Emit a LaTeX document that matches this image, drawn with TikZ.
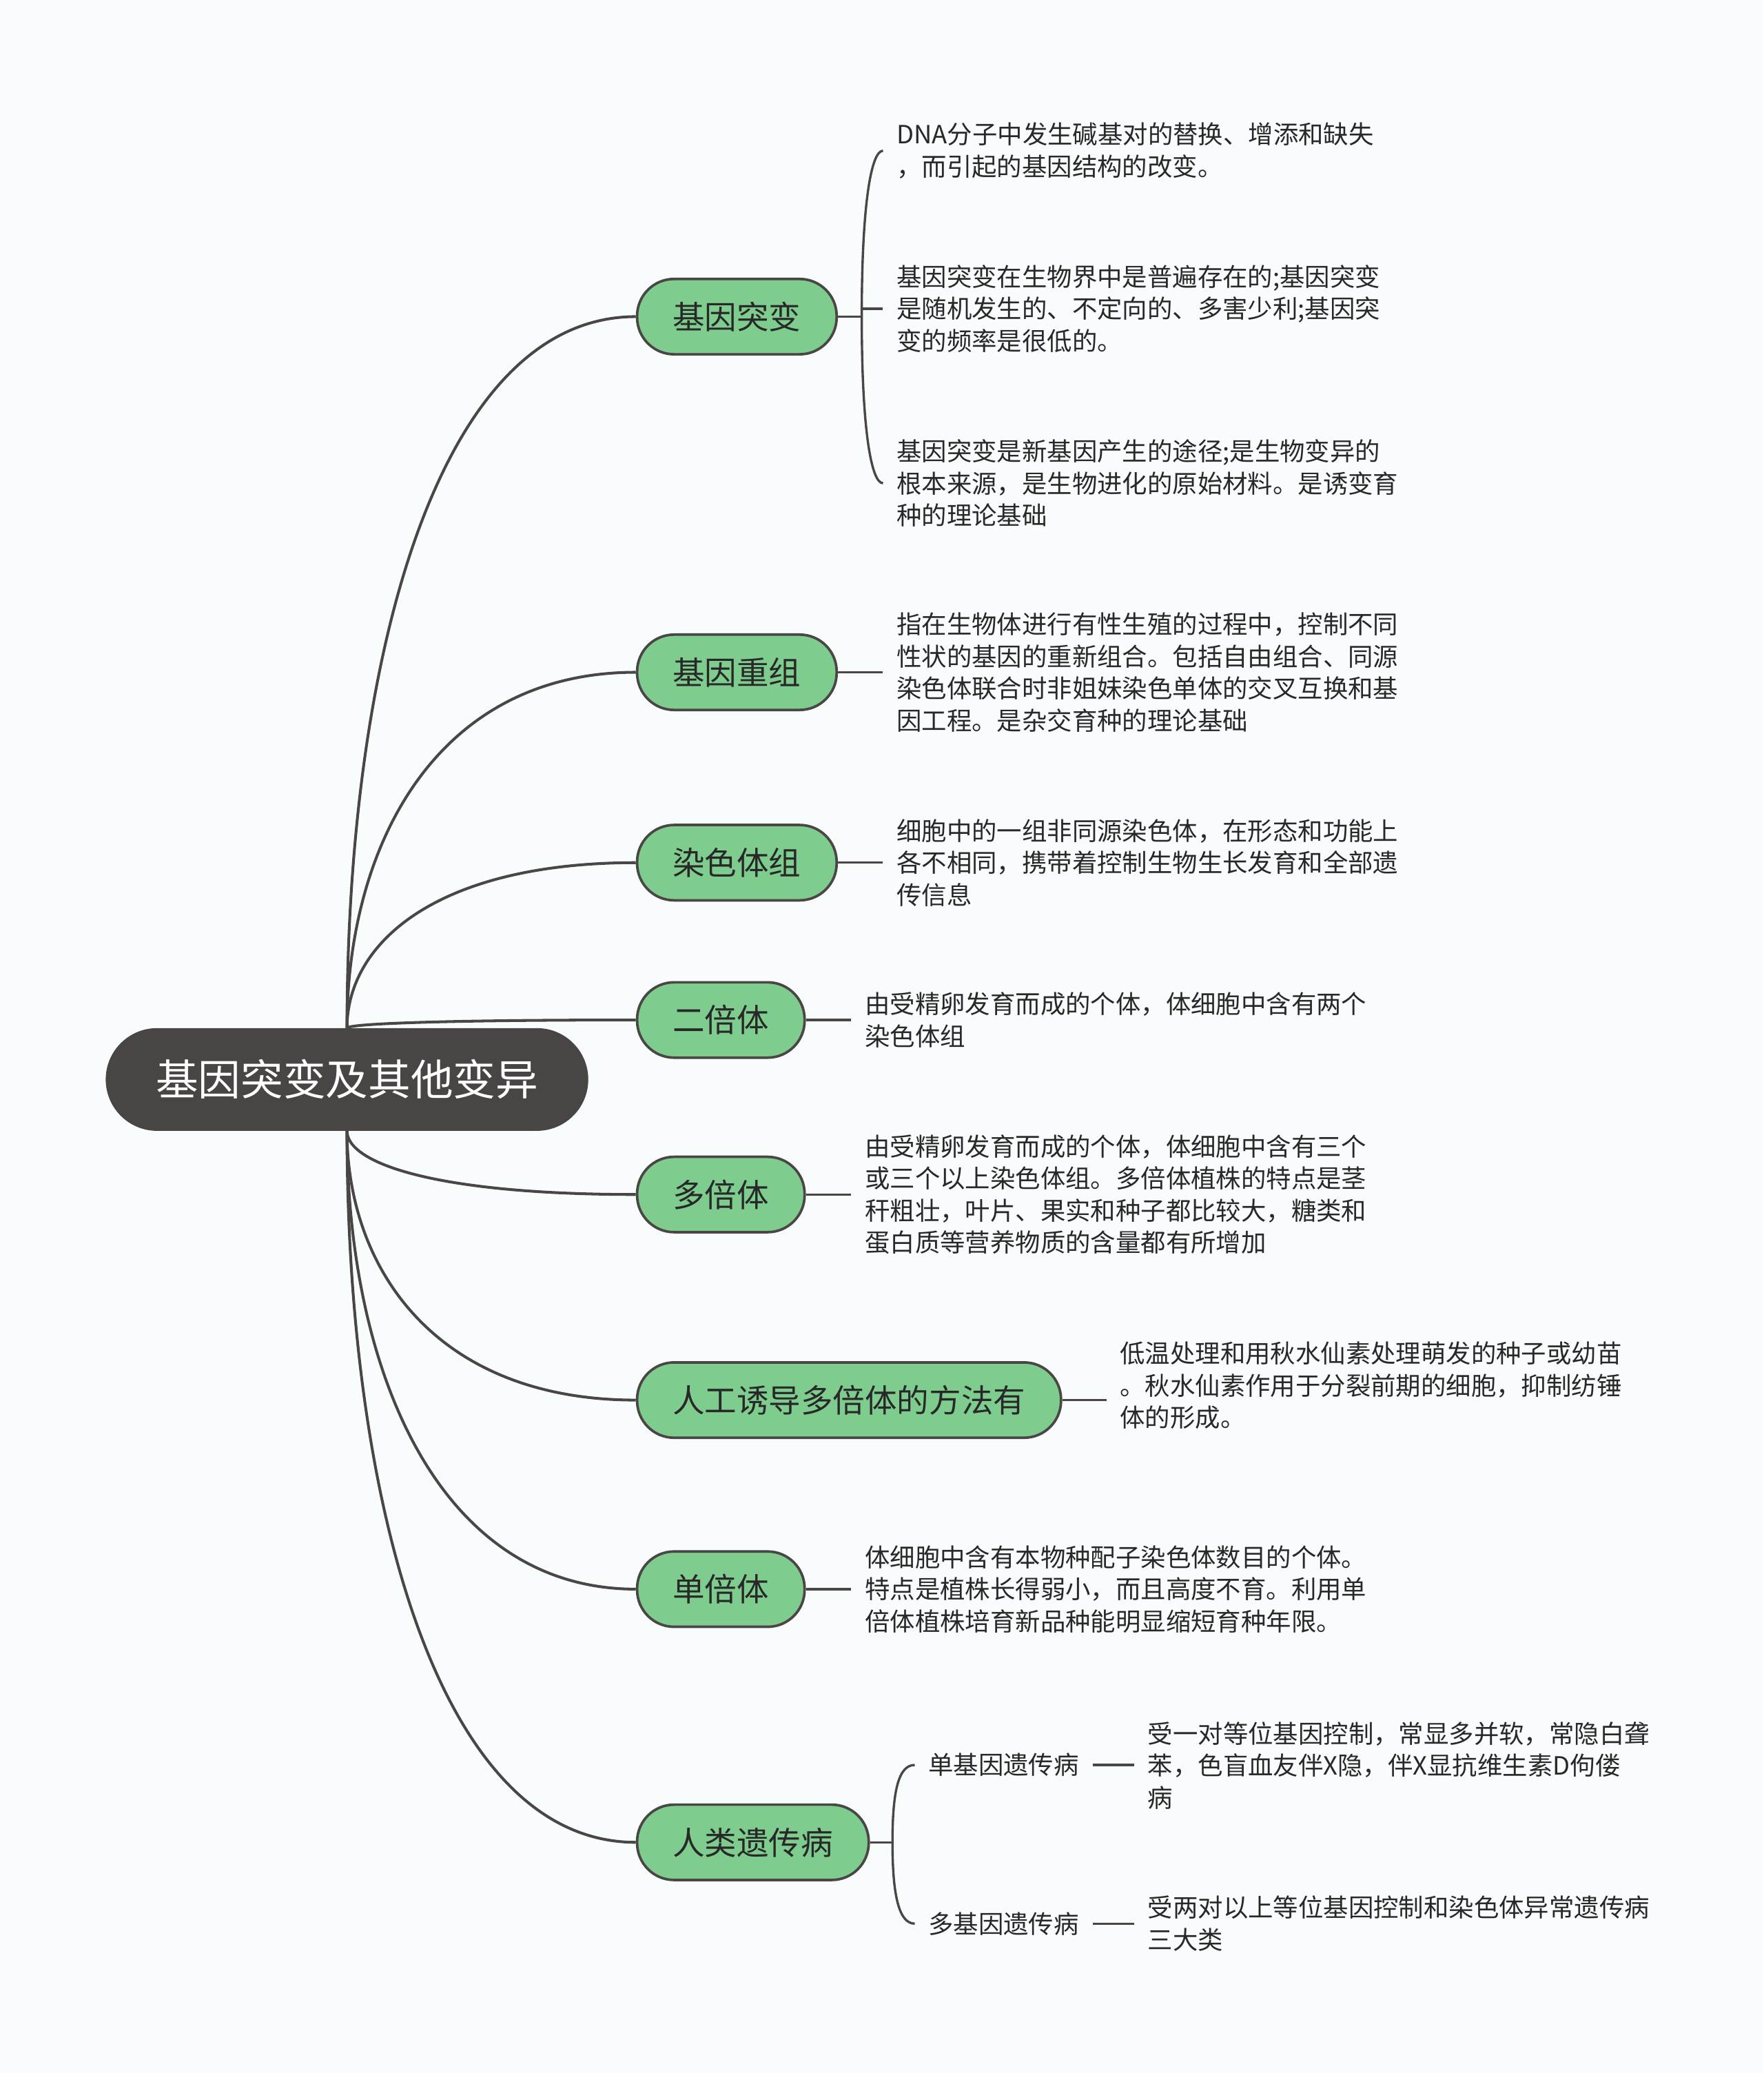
\documentclass[tikz,border=0pt]{standalone}
\usepackage{fontspec}
\setmainfont{Noto Sans CJK SC}
\usetikzlibrary{calc}
\definecolor{mmbg}{RGB}{248,252,253}
\definecolor{mmline}{RGB}{74,70,70}
\definecolor{mmroot}{RGB}{74,69,69}
\definecolor{mmgreen}{RGB}{126,204,142}
\definecolor{mmtext}{RGB}{40,40,40}

\begin{document}
\begin{tikzpicture}[x=0.02cm, y=-0.02cm,
  trunk/.style={draw=mmline, line width=1.2pt},
  link/.style={draw=mmline, line width=1pt},
  rootlink/.style={to path={.. controls ($(\tikztostart)!.515!(\tikztostart |- \tikztotarget)$) and ($(\tikztotarget)!.69!(\tikztostart |- \tikztotarget)$) .. (\tikztotarget)}},
  topic/.style={rectangle, fill=mmroot, draw=mmroot, rounded corners=0.77cm, minimum height=1.54cm, inner xsep=0.75cm, text=white, font=\fontsize{18.3pt}{22pt}\selectfont},
  branch/.style={rectangle, fill=mmgreen, draw=mmline, line width=1.1pt, rounded corners=0.56cm, minimum height=1.14cm, inner xsep=0.54cm, anchor=west, text=mmtext, font=\fontsize{13.8pt}{16pt}\selectfont},
  leaf/.style={anchor=west, align=left, inner xsep=0.2cm, inner ysep=0pt, text=mmtext, font=\fontsize{10.8pt}{13.8pt}\selectfont}]
% page
\fill[mmbg] (0,0) rectangle (1334,1568);

% central topic
\node[topic] (root) at (262.5,816.5) {基因突变及其他变异};

% main topics
\node[branch] (mut) at (481,239.5) {基因突变};
\node[branch] (rec) at (481,508.5) {基因重组};
\node[branch] (set) at (481,652.5) {染色体组};
\node[branch] (dip) at (481,771.5) {二倍体};
\node[branch] (pol) at (481,903.5) {多倍体};
\node[branch] (ind) at (481,1059) {人工诱导多倍体的方法有};
\node[branch] (hap) at (481,1202) {单倍体};
\node[branch] (hum) at (481,1393.5) {人类遗传病};

% notes
\node[leaf] (la) at (668,114) {DNA分子中发生碱基对的替换、增添和缺失\\，而引起的基因结构的改变。};
\node[leaf] (lb) at (668,233.5) {基因突变在生物界中是普遍存在的;基因突变\\是随机发生的、不定向的、多害少利;基因突\\变的频率是很低的。};
\node[leaf] (lc) at (668,365.5) {基因突变是新基因产生的途径;是生物变异的\\根本来源，是生物进化的原始材料。是诱变育\\种的理论基础};
\node[leaf] (lr) at (668,508.5) {指在生物体进行有性生殖的过程中，控制不同\\性状的基因的重新组合。包括自由组合、同源\\染色体联合时非姐妹染色单体的交叉互换和基\\因工程。是杂交育种的理论基础};
\node[leaf] (ls) at (668,652.5) {细胞中的一组非同源染色体，在形态和功能上\\各不相同，携带着控制生物生长发育和全部遗\\传信息};
\node[leaf] (ld) at (644,771.5) {由受精卵发育而成的个体，体细胞中含有两个\\染色体组};
\node[leaf] (lp) at (644,903.5) {由受精卵发育而成的个体，体细胞中含有三个\\或三个以上染色体组。多倍体植株的特点是茎\\秆粗壮，叶片、果实和种子都比较大，糖类和\\蛋白质等营养物质的含量都有所增加};
\node[leaf] (li) at (837,1048) {低温处理和用秋水仙素处理萌发的种子或幼苗\\。秋水仙素作用于分裂前期的细胞，抑制纺锤\\体的形成。};
\node[leaf] (lh) at (644,1202) {体细胞中含有本物种配子染色体数目的个体。\\特点是植株长得弱小，而且高度不育。利用单\\倍体植株培育新品种能明显缩短育种年限。};

% human genetic diseases
\node[leaf] (s1) at (692,1335) {单基因遗传病};
\node[leaf] (s2) at (692,1455) {多基因遗传病};
\node[leaf] (l1) at (858,1335.5) {受一对等位基因控制，常显多并软，常隐白聋\\苯，色盲血友伴X隐，伴X显抗维生素D佝偻\\病};
\node[leaf] (l2) at (858,1455) {受两对以上等位基因控制和染色体异常遗传病\\三大类};

% root to main topics
\draw[trunk] (root.north) to[rootlink] (mut.west);
\draw[trunk] (root.north) to[rootlink] (rec.west);
\draw[trunk] (root.north) to[rootlink] (set.west);
\draw[trunk] (root.north) to[rootlink] (dip.west);
\draw[trunk] (root.south) to[rootlink] (pol.west);
\draw[trunk] (root.south) to[rootlink] (ind.west);
\draw[trunk] (root.south) to[rootlink] (hap.west);
\draw[trunk] (root.south) to[rootlink] (hum.west);

% brackets and ticks
\draw[link] (mut.east) -- ++(18,0) coordinate (mutj);
\draw[link] (la.west) .. controls +(-9,0) and +(0,-85) .. (mutj) .. controls +(0,85) and +(-9,0) .. (lc.west);
\draw[link] (mutj |- lb.west) -- (lb.west);
\draw[link] (rec.east) -- (lr.west);
\draw[link] (set.east) -- (ls.west);
\draw[link] (dip.east) -- (ld.west);
\draw[link] (pol.east) -- (lp.west);
\draw[link] (ind.east) -- (ind.east -| li.west);
\draw[link] (hap.east) -- (lh.west);

\draw[link] (hum.east) -- ++(17,0) coordinate (humj);
\draw[link] (s1.west) .. controls +(-12,0) and +(0,-40) .. (humj) .. controls +(0,40) and +(-12,0) .. (s2.west);
\draw[link] (s1.east) -- (s1.east -| l1.west);
\draw[link] (s2.east) -- (l2.west);
\end{tikzpicture}
\end{document}
